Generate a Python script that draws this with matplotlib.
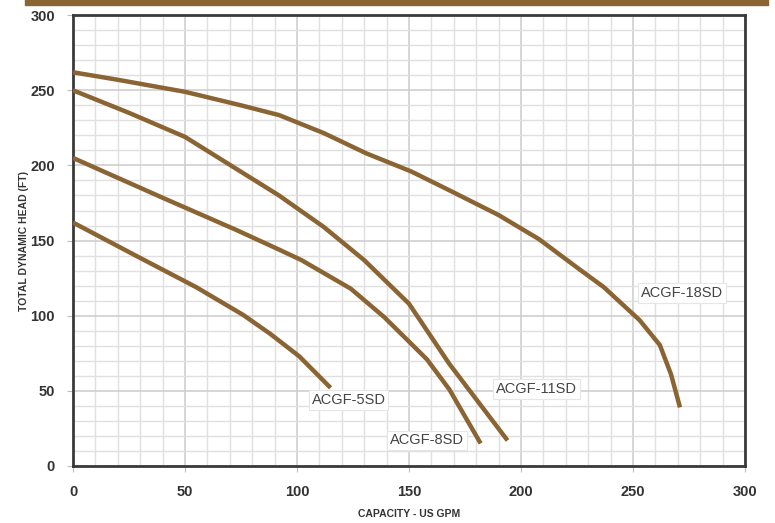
import matplotlib
matplotlib.use("Agg")
import matplotlib.pyplot as plt
from matplotlib.patches import Rectangle

# pump curves (capacity US GPM, head FT)
gpm_18 = [0, 20, 50, 75, 92, 112, 131, 151, 170, 190, 208, 226, 237, 253, 262, 267, 271]
head_18 = [262, 257, 249, 240, 233.5, 221.5, 208, 196, 182, 167, 151, 131, 119, 97, 80.5, 61, 39]

gpm_11 = [0, 25, 50, 78, 92, 112, 130, 150, 168, 194]
head_11 = [250, 235, 219, 193, 180, 159, 137, 108, 68, 17]

gpm_8 = [0, 40, 73, 92, 102, 124, 139, 158, 168, 182]
head_8 = [205, 178.5, 157, 144, 137, 118, 99, 71, 51, 15]

gpm_5 = [0, 28, 55, 76, 88, 101, 115]
head_5 = [162, 140, 119, 100.5, 88, 73, 52]

series = [
    ("ACGF-18SD", gpm_18, head_18, (272, 115)),
    ("ACGF-11SD", gpm_11, head_11, (207, 51)),
    ("ACGF-8SD", gpm_8, head_8, (158, 17)),
    ("ACGF-5SD", gpm_5, head_5, (123, 44)),
]

BROWN = "#8a6432"
TXT = "#333333"

plt.rcParams["font.family"] = ["Liberation Sans", "DejaVu Sans"]

fig = plt.figure(figsize=(7.75, 5.23), dpi=100)
ax = fig.add_axes([0.0942, 0.109, 0.867, 0.862])

# brown strip at the top
fig.patches.append(Rectangle((0.032, 0.990), 0.959, 0.012, transform=fig.transFigure,
                             color=BROWN, zorder=5))

ax.set_xlim(0, 300)
ax.set_ylim(0, 300)
ax.set_xticks(range(0, 301, 50))
ax.set_yticks(range(0, 301, 50))
ax.set_xticks(range(0, 301, 10), minor=True)
ax.set_yticks(range(0, 301, 10), minor=True)
ax.grid(which="minor", color="#e0e0e0", linewidth=1.0)
ax.grid(which="major", color="#cfcfcf", linewidth=1.2)
ax.set_axisbelow(True)

for s in ax.spines.values():
    s.set_color("#3a3a3a")
    s.set_linewidth(2)

ax.tick_params(which="major", length=4, color="#bbbbbb", labelsize=10.5,
               labelcolor=TXT)
ax.tick_params(which="minor", length=0)
ax.tick_params(axis="y", pad=9)
ax.tick_params(axis="x", pad=10)
for lab in ax.get_xticklabels() + ax.get_yticklabels():
    lab.set_fontweight("bold")

for name, xs, ys, (lx, ly) in series:
    ax.plot(xs, ys, color=BROWN, linewidth=3.2, solid_capstyle="butt",
            solid_joinstyle="round", zorder=3)
    ax.text(lx, ly, name, fontsize=10.5, color="#444444", ha="center", va="center",
            zorder=4,
            bbox=dict(boxstyle="square,pad=0.2", facecolor="white",
                      edgecolor="#e6e6e6", linewidth=0.8))

ax.set_xlabel("CAPACITY - US GPM", fontsize=7.5, fontweight="bold", color=TXT, labelpad=7)
ax.set_ylabel("TOTAL DYNAMIC HEAD (FT)", fontsize=7.5, fontweight="bold", color=TXT)
ax.yaxis.set_label_coords(-0.066, 0.5)

fig.savefig("out.png", dpi=100)
